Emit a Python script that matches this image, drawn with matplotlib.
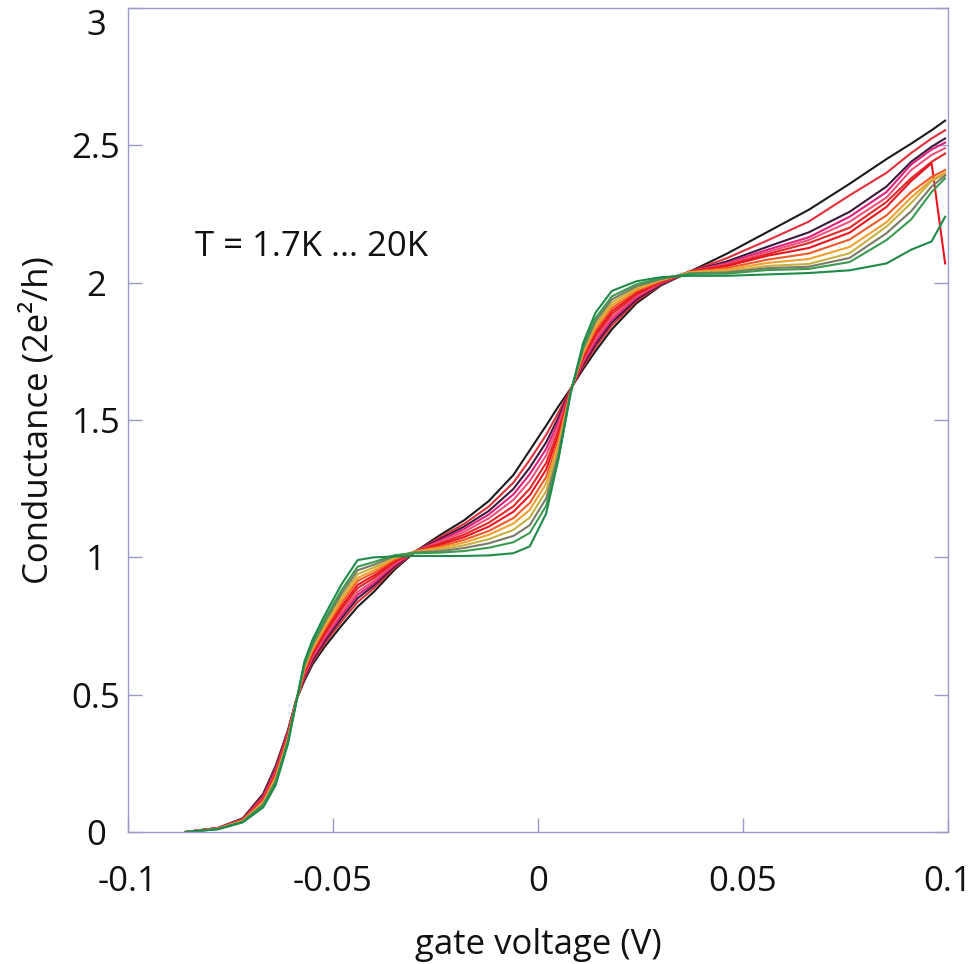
import matplotlib
matplotlib.use("Agg")
import matplotlib.pyplot as plt
import matplotlib.transforms as mtransforms

plt.rcParams['font.family'] = ['Open Sans', 'DejaVu Sans']
plt.rcParams['axes.unicode_minus'] = False

# gate voltage grid (V)
gate_v = [-0.086, -0.078, -0.072, -0.067, -0.064, -0.061, -0.059, -0.057, -0.055, -0.052,
          -0.048, -0.044, -0.040, -0.035, -0.030, -0.024, -0.018, -0.012, -0.006, -0.002,
          0.002, 0.005, 0.008, 0.011, 0.014, 0.018, 0.024, 0.030, 0.037, 0.046,
          0.056, 0.066, 0.076, 0.085, 0.091, 0.096, 0.0993]

# conductance (2e^2/h), hottest (20K) -> coldest (1.7K)
G_c00 = [0.0, .015, .050, .140, .240, .370, .480, .550, .610, .675, .750, .820, .875, .955, 1.020, 1.080, 1.135, 1.205, 1.300, 1.390, 1.480, 1.550, 1.615, 1.685, 1.750, 1.830, 1.925, 1.990, 2.040, 2.105, 2.185, 2.265, 2.360, 2.450, 2.506, 2.555, 2.590]
G_c01 = [0.0, .015, .048, .135, .233, .365, .479, .557, .619, .687, .765, .837, .888, .962, 1.020, 1.072, 1.122, 1.185, 1.272, 1.355, 1.446, 1.528, 1.614, 1.695, 1.764, 1.844, 1.933, 1.993, 2.040, 2.089, 2.154, 2.222, 2.318, 2.400, 2.472, 2.525, 2.555]
G_c02 = [0.0, .014, .047, .131, .227, .361, .478, .563, .626, .696, .777, .851, .898, .967, 1.021, 1.066, 1.112, 1.169, 1.249, 1.327, 1.419, 1.510, 1.612, 1.702, 1.775, 1.855, 1.939, 1.995, 2.040, 2.077, 2.131, 2.183, 2.258, 2.350, 2.440, 2.495, 2.525]
G_c03 = [0.0, .014, .046, .128, .223, .358, .478, .568, .633, .704, .788, .863, .906, .972, 1.021, 1.061, 1.103, 1.156, 1.229, 1.303, 1.395, 1.495, 1.611, 1.709, 1.785, 1.865, 1.945, 1.998, 2.040, 2.071, 2.120, 2.165, 2.240, 2.330, 2.430, 2.485, 2.510]
G_c04 = [0.0, .014, .045, .124, .218, .354, .477, .572, .639, .712, .798, .874, .915, .977, 1.022, 1.056, 1.093, 1.142, 1.209, 1.278, 1.371, 1.480, 1.610, 1.715, 1.795, 1.875, 1.951, 2.000, 2.040, 2.067, 2.112, 2.155, 2.222, 2.310, 2.410, 2.465, 2.490]
G_c05 = [0.0, .013, .044, .120, .212, .350, .476, .578, .646, .721, .810, .888, .925, .982, 1.022, 1.050, 1.083, 1.126, 1.186, 1.250, 1.344, 1.462, 1.609, 1.723, 1.806, 1.886, 1.957, 2.002, 2.040, 2.063, 2.104, 2.144, 2.200, 2.294, 2.380, 2.440, 2.470]
G_c06 = [0.0, .013, .043, .117, .207, .347, .475, .583, .652, .729, .820, .900, .934, .987, 1.022, 1.045, 1.074, 1.112, 1.166, 1.226, 1.320, 1.447, 1.608, 1.730, 1.816, 1.896, 1.963, 2.004, 2.040, 2.060, 2.098, 2.126, 2.182, 2.276, 2.370, 2.435, 2.070]
G_c07 = [0.0, .013, .042, .113, .202, .343, .475, .589, .660, .738, .833, .914, .944, .992, 1.022, 1.039, 1.064, 1.096, 1.143, 1.198, 1.293, 1.429, 1.607, 1.737, 1.827, 1.907, 1.969, 2.007, 2.039, 2.053, 2.084, 2.106, 2.157, 2.245, 2.330, 2.385, 2.410]
G_c08 = [0.0, .012, .041, .109, .197, .339, .474, .593, .666, .746, .843, .925, .953, .997, 1.021, 1.034, 1.054, 1.082, 1.123, 1.173, 1.269, 1.414, 1.606, 1.744, 1.837, 1.917, 1.975, 2.009, 2.038, 2.047, 2.072, 2.086, 2.130, 2.220, 2.310, 2.375, 2.400]
G_c09 = [0.0, .012, .040, .105, .191, .335, .473, .599, .673, .756, .855, .939, .963, 1.000, 1.020, 1.028, 1.044, 1.066, 1.100, 1.145, 1.242, 1.396, 1.605, 1.752, 1.848, 1.928, 1.981, 2.011, 2.036, 2.041, 2.061, 2.068, 2.107, 2.204, 2.290, 2.370, 2.395]
G_c10 = [0.0, .011, .038, .101, .185, .331, .472, .605, .680, .765, .867, .953, .973, 1.005, 1.018, 1.022, 1.034, 1.051, 1.078, 1.117, 1.215, 1.378, 1.604, 1.759, 1.859, 1.939, 1.987, 2.013, 2.034, 2.037, 2.053, 2.058, 2.090, 2.180, 2.260, 2.350, 2.390]
G_c11 = [0.0, .011, .037, .097, .180, .327, .471, .610, .687, .774, .879, .966, .983, 1.008, 1.015, 1.017, 1.023, 1.035, 1.055, 1.089, 1.188, 1.361, 1.603, 1.767, 1.870, 1.950, 1.994, 2.016, 2.032, 2.033, 2.046, 2.050, 2.075, 2.155, 2.230, 2.330, 2.380]
G_c12 = [0.0, .010, .035, .090, .170, .320, .470, .620, .700, .790, .900, .990, 1.000, 1.003, 1.005, 1.005, 1.005, 1.007, 1.015, 1.040, 1.160, 1.360, 1.600, 1.780, 1.890, 1.970, 2.005, 2.020, 2.025, 2.025, 2.030, 2.035, 2.045, 2.070, 2.120, 2.150, 2.240]

curve_colors = ['#1a1a1a', '#e0303a', '#3a1a3a', '#e0207a', '#f0507a', '#e02828', '#ec1420',
                '#f05a28', '#f0a030', '#c8b040', '#7a7a6a', '#3a9a50', '#1f8a4a']

x_ticks = [-0.1, -0.05, 0, 0.05, 0.1]
x_tick_labels = ['-0.1', '-0.05', '0', '0.05', '0.1']
y_ticks = [0, 0.5, 1, 1.5, 2, 2.5, 3]
y_tick_labels = ['0', '0.5', '1', '1.5', '2', '2.5', '3']

fig = plt.figure(figsize=(9.78, 9.64), dpi=100)
ax = fig.add_axes([128/978, 1 - 832/964, 820/978, 824/964])

curves = [G_c00, G_c01, G_c02, G_c03, G_c04, G_c05, G_c06,
          G_c07, G_c08, G_c09, G_c10, G_c11, G_c12]
for g, c in zip(curves, curve_colors):
    ax.plot(gate_v, g, color=c, lw=1.5, solid_joinstyle='round')

ax.set_xlim(-0.1, 0.1)
ax.set_ylim(0, 3)

spine_col = '#9a9ac8'
for s in ax.spines.values():
    s.set_color(spine_col)
    s.set_linewidth(1.0)

ax.set_xticks(x_ticks, labels=x_tick_labels)
ax.set_yticks(y_ticks, labels=y_tick_labels)
ax.tick_params(axis='both', direction='in', length=10, width=1.0, color=spine_col,
               labelsize=25, labelcolor='#111111')
ax.tick_params(axis='y', right=True, pad=23)
ax.tick_params(axis='x', pad=24)
for lbl in ax.get_yticklabels():
    lbl.set_horizontalalignment('center')

# the topmost label sits slightly lower so it stays inside the figure
top_lbl = ax.get_yticklabels()[-1]
top_lbl.set_transform(top_lbl.get_transform() +
                      mtransforms.ScaledTranslation(0, -14/100, fig.dpi_scale_trans))

ax.text(-0.0837, 2.13, 'T = 1.7K ... 20K', fontsize=25, color='#111111',
        ha='left', va='center')

fig.text(538/978, 1 - 945/964, 'gate voltage (V)', fontsize=25, color='#111111',
         ha='center', va='center')
fig.text(38/978, 1 - 420/964, 'Conductance (2e²/h)', fontsize=25, color='#111111',
         ha='center', va='center', rotation=90)

fig.savefig('out.png', dpi=100, facecolor='white')
